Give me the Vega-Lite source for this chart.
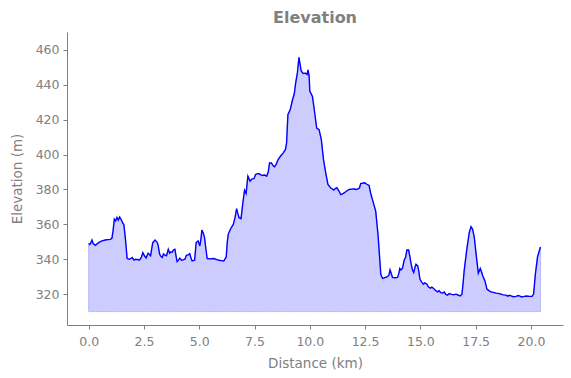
{
  "$schema": "https://vega.github.io/schema/vega-lite/v6.json",
  "width": 496,
  "height": 293,
  "autosize": {"type": "none"},
  "padding": {"left": 67, "top": 32, "right": 8, "bottom": 53},
  "background": "white",
  "title": {"text": "Elevation", "fontSize": 16, "font": "DejaVu Sans", "fontWeight": "bold", "color": "#808080", "anchor": "middle", "baseline": "bottom", "offset": 7, "dy": 17},
  "config": {
    "view": {"stroke": null},
    "axis": {"font": "DejaVu Sans", "labelFont": "DejaVu Sans", "titleFont": "DejaVu Sans", "labelColor": "#808080", "titleColor": "#808080", "domainColor": "#808080", "tickColor": "#808080", "grid": false, "labelFontSize": 12.5, "titleFontSize": 13.5, "titleFontWeight": "normal", "tickSize": 4, "domainWidth": 1, "tickWidth": 1}
  },
  "data": {"values": [
    {"km": 0, "elev": 349}, {"km": 0.05, "elev": 348.5}, {"km": 0.1, "elev": 349.5}, {"km": 0.15, "elev": 351}, {"km": 0.2, "elev": 349}, {"km": 0.3, "elev": 348}, {"km": 0.45, "elev": 349.5}, {"km": 0.6, "elev": 350.5}, {"km": 0.8, "elev": 351.2}, {"km": 0.98, "elev": 351.4}, {"km": 1.05, "elev": 352}, {"km": 1.1, "elev": 356}, {"km": 1.16, "elev": 363}, {"km": 1.22, "elev": 362}, {"km": 1.28, "elev": 364}, {"km": 1.34, "elev": 362.5}, {"km": 1.4, "elev": 364.2}, {"km": 1.48, "elev": 362.5}, {"km": 1.55, "elev": 360.5}, {"km": 1.59, "elev": 360}, {"km": 1.66, "elev": 352}, {"km": 1.74, "elev": 340.4}, {"km": 1.85, "elev": 340}, {"km": 1.97, "elev": 341}, {"km": 2.05, "elev": 339.5}, {"km": 2.12, "elev": 340}, {"km": 2.3, "elev": 339.6}, {"km": 2.38, "elev": 341}, {"km": 2.45, "elev": 343.8}, {"km": 2.52, "elev": 342}, {"km": 2.6, "elev": 340.8}, {"km": 2.69, "elev": 343.5}, {"km": 2.8, "elev": 342}, {"km": 2.85, "elev": 346}, {"km": 2.9, "elev": 349.5}, {"km": 3.0, "elev": 351}, {"km": 3.08, "elev": 350}, {"km": 3.13, "elev": 348.6}, {"km": 3.21, "elev": 342.9}, {"km": 3.27, "elev": 341.5}, {"km": 3.33, "elev": 341}, {"km": 3.38, "elev": 343}, {"km": 3.43, "elev": 342.5}, {"km": 3.52, "elev": 342}, {"km": 3.6, "elev": 345.7}, {"km": 3.66, "elev": 343.5}, {"km": 3.71, "elev": 344.2}, {"km": 3.78, "elev": 344}, {"km": 3.83, "elev": 345.3}, {"km": 3.9, "elev": 345.7}, {"km": 3.95, "elev": 342}, {"km": 4.0, "elev": 338.7}, {"km": 4.06, "elev": 339.5}, {"km": 4.12, "elev": 340.6}, {"km": 4.2, "elev": 339.4}, {"km": 4.27, "elev": 339.6}, {"km": 4.35, "elev": 340}, {"km": 4.42, "elev": 342.3}, {"km": 4.5, "elev": 342.5}, {"km": 4.57, "elev": 343.2}, {"km": 4.62, "elev": 341}, {"km": 4.68, "elev": 339}, {"km": 4.79, "elev": 339.4}, {"km": 4.83, "elev": 345}, {"km": 4.86, "elev": 349.5}, {"km": 4.95, "elev": 350.5}, {"km": 5.03, "elev": 347.6}, {"km": 5.08, "elev": 352}, {"km": 5.12, "elev": 356.8}, {"km": 5.18, "elev": 355}, {"km": 5.24, "elev": 352.4}, {"km": 5.3, "elev": 346}, {"km": 5.36, "elev": 340.4}, {"km": 5.5, "elev": 340.2}, {"km": 5.66, "elev": 340.4}, {"km": 5.8, "elev": 339.8}, {"km": 5.89, "elev": 339.4}, {"km": 6.0, "elev": 339.2}, {"km": 6.11, "elev": 339}, {"km": 6.22, "elev": 341.3}, {"km": 6.27, "elev": 350}, {"km": 6.31, "elev": 354.3}, {"km": 6.42, "elev": 357.5}, {"km": 6.54, "elev": 360}, {"km": 6.62, "elev": 364}, {"km": 6.69, "elev": 369}, {"km": 6.75, "elev": 366}, {"km": 6.8, "elev": 363.8}, {"km": 6.89, "elev": 363.3}, {"km": 6.97, "elev": 372}, {"km": 7.05, "elev": 379.6}, {"km": 7.12, "elev": 377.7}, {"km": 7.2, "elev": 387.6}, {"km": 7.3, "elev": 384.8}, {"km": 7.38, "elev": 386}, {"km": 7.48, "elev": 386.3}, {"km": 7.55, "elev": 388.6}, {"km": 7.63, "elev": 389.1}, {"km": 7.7, "elev": 389}, {"km": 7.78, "elev": 388.5}, {"km": 7.85, "elev": 388}, {"km": 7.95, "elev": 388.3}, {"km": 8.05, "elev": 387.6}, {"km": 8.12, "elev": 390}, {"km": 8.18, "elev": 395.2}, {"km": 8.26, "elev": 395.2}, {"km": 8.35, "elev": 393.5}, {"km": 8.41, "elev": 393}, {"km": 8.5, "elev": 395}, {"km": 8.56, "elev": 397}, {"km": 8.68, "elev": 399.2}, {"km": 8.8, "elev": 401}, {"km": 8.9, "elev": 403}, {"km": 8.95, "elev": 406.7}, {"km": 9.01, "elev": 422.9}, {"km": 9.12, "elev": 426}, {"km": 9.21, "elev": 431}, {"km": 9.3, "elev": 435}, {"km": 9.36, "elev": 441}, {"km": 9.44, "elev": 447}, {"km": 9.51, "elev": 455.8}, {"km": 9.55, "elev": 452.6}, {"km": 9.61, "elev": 448}, {"km": 9.7, "elev": 446.5}, {"km": 9.81, "elev": 446.7}, {"km": 9.88, "elev": 446}, {"km": 9.92, "elev": 448.6}, {"km": 9.97, "elev": 445}, {"km": 10.0, "elev": 436.4}, {"km": 10.12, "elev": 433.3}, {"km": 10.2, "elev": 426}, {"km": 10.31, "elev": 415.2}, {"km": 10.42, "elev": 414.3}, {"km": 10.52, "elev": 408.6}, {"km": 10.62, "elev": 397.1}, {"km": 10.72, "elev": 389.5}, {"km": 10.82, "elev": 382.9}, {"km": 10.94, "elev": 381}, {"km": 11.09, "elev": 379.7}, {"km": 11.15, "elev": 380.5}, {"km": 11.22, "elev": 381}, {"km": 11.32, "elev": 379.1}, {"km": 11.4, "elev": 377.1}, {"km": 11.48, "elev": 377.5}, {"km": 11.55, "elev": 378}, {"km": 11.65, "elev": 379}, {"km": 11.78, "elev": 380}, {"km": 11.9, "elev": 380.2}, {"km": 12.0, "elev": 380.3}, {"km": 12.1, "elev": 380}, {"km": 12.18, "elev": 380.3}, {"km": 12.25, "elev": 381}, {"km": 12.3, "elev": 383.4}, {"km": 12.48, "elev": 383.8}, {"km": 12.58, "elev": 383}, {"km": 12.68, "elev": 382.3}, {"km": 12.75, "elev": 378}, {"km": 12.83, "elev": 374.3}, {"km": 12.98, "elev": 367.6}, {"km": 13.09, "elev": 353.3}, {"km": 13.21, "elev": 331.4}, {"km": 13.29, "elev": 329}, {"km": 13.4, "elev": 329.5}, {"km": 13.51, "elev": 330}, {"km": 13.58, "elev": 331}, {"km": 13.63, "elev": 333.9}, {"km": 13.68, "elev": 332}, {"km": 13.74, "elev": 329.6}, {"km": 13.85, "elev": 329.4}, {"km": 13.97, "elev": 329.6}, {"km": 14.03, "elev": 332}, {"km": 14.07, "elev": 334.7}, {"km": 14.12, "elev": 333.9}, {"km": 14.19, "elev": 334.7}, {"km": 14.27, "elev": 339.6}, {"km": 14.33, "elev": 341}, {"km": 14.39, "elev": 345.3}, {"km": 14.47, "elev": 345.3}, {"km": 14.52, "elev": 342}, {"km": 14.57, "elev": 338.1}, {"km": 14.64, "elev": 334}, {"km": 14.7, "elev": 332.4}, {"km": 14.76, "elev": 335.5}, {"km": 14.8, "elev": 337.1}, {"km": 14.88, "elev": 336.2}, {"km": 14.93, "elev": 333}, {"km": 14.98, "elev": 328.6}, {"km": 15.05, "elev": 327}, {"km": 15.14, "elev": 325.7}, {"km": 15.2, "elev": 326.5}, {"km": 15.3, "elev": 325.7}, {"km": 15.36, "elev": 324.2}, {"km": 15.45, "elev": 323.4}, {"km": 15.52, "elev": 324}, {"km": 15.6, "elev": 323.2}, {"km": 15.7, "elev": 322}, {"km": 15.78, "elev": 321.3}, {"km": 15.85, "elev": 322}, {"km": 15.92, "elev": 320.8}, {"km": 16.0, "elev": 320.6}, {"km": 16.08, "elev": 321.2}, {"km": 16.15, "elev": 319.8}, {"km": 16.23, "elev": 319.4}, {"km": 16.3, "elev": 320.3}, {"km": 16.38, "elev": 320}, {"km": 16.5, "elev": 319.6}, {"km": 16.61, "elev": 320}, {"km": 16.7, "elev": 319.5}, {"km": 16.8, "elev": 319}, {"km": 16.88, "elev": 320}, {"km": 16.93, "elev": 326}, {"km": 16.98, "elev": 333.3}, {"km": 17.1, "elev": 345.7}, {"km": 17.21, "elev": 355.2}, {"km": 17.29, "elev": 358.7}, {"km": 17.36, "elev": 357.3}, {"km": 17.44, "elev": 352.4}, {"km": 17.53, "elev": 341.9}, {"km": 17.62, "elev": 332}, {"km": 17.71, "elev": 334.7}, {"km": 17.76, "elev": 333}, {"km": 17.82, "elev": 330.5}, {"km": 17.92, "elev": 327.6}, {"km": 18.01, "elev": 322.9}, {"km": 18.1, "elev": 322}, {"km": 18.19, "elev": 321.3}, {"km": 18.3, "elev": 321}, {"km": 18.42, "elev": 320.6}, {"km": 18.52, "elev": 320.4}, {"km": 18.64, "elev": 320}, {"km": 18.75, "elev": 319.6}, {"km": 18.87, "elev": 319.4}, {"km": 18.95, "elev": 318.8}, {"km": 19.02, "elev": 319.3}, {"km": 19.1, "elev": 319}, {"km": 19.2, "elev": 318.5}, {"km": 19.33, "elev": 318.7}, {"km": 19.42, "elev": 319.2}, {"km": 19.48, "elev": 319}, {"km": 19.58, "elev": 318.4}, {"km": 19.7, "elev": 318.7}, {"km": 19.8, "elev": 318.9}, {"km": 19.93, "elev": 318.7}, {"km": 20.05, "elev": 318.7}, {"km": 20.12, "elev": 320}, {"km": 20.2, "elev": 331.4}, {"km": 20.3, "elev": 341.5}, {"km": 20.43, "elev": 347}
  ]},
  "encoding": {
    "x": {"field": "km", "type": "quantitative", "title": "Distance (km)",
      "scale": {"domain": [-0.98, 21.45], "nice": false, "zero": false},
      "axis": {"values": [0, 2.5, 5, 7.5, 10, 12.5, 15, 17.5, 20], "format": ".1f", "labelPadding": 6, "titlePadding": 9}},
    "y": {"field": "elev", "type": "quantitative", "title": "Elevation (m)",
      "scale": {"domain": [302.3, 470.3], "nice": false, "zero": false},
      "axis": {"values": [320, 340, 360, 380, 400, 420, 440, 460], "labelPadding": 4, "titlePadding": 11}}
  },
  "layer": [
    {"mark": {"type": "area", "color": "#ccccff", "opacity": 1, "stroke": "#b8b8ff", "strokeWidth": 1}, "encoding": {"y2": {"datum": 310}}},
    {"mark": {"type": "line", "color": "#0000ff", "strokeWidth": 1.4}}
  ]
}
